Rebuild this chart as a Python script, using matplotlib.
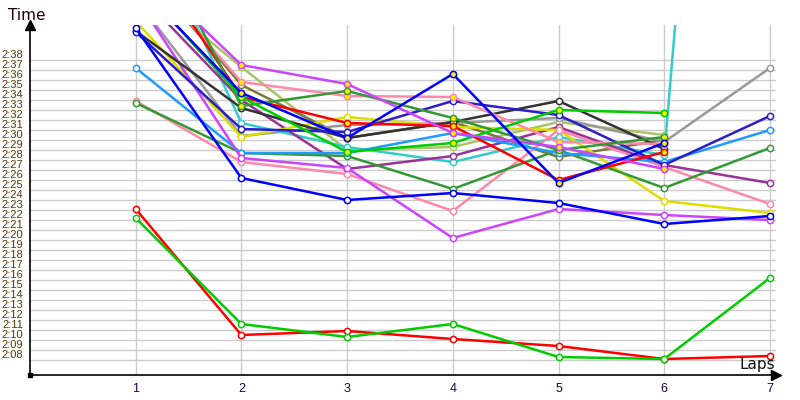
import numpy as np
import matplotlib
matplotlib.use('Agg')
import matplotlib.pyplot as plt
from matplotlib.ticker import FuncFormatter

nan = np.nan

# laps on the x axis
laps = [1, 2, 3, 4, 5, 6, 7]

# lap times in seconds (2:23.1 -> 143.1), nan = no lap
red_low = [143.1, 130.5, 130.9, 130.1, 129.4, 128.1, 128.4]
green_low = [142.2, 131.6, 130.3, 131.6, 128.3, 128.1, 136.2]
black = [160.9, 153.2, 150.2, 151.8, 153.9, 149.1, nan]
navy = [160.8, 151.1, 150.8, 153.9, 152.5, 147.5, 152.4]
blue = [161.2, 146.2, 144.0, 144.7, 143.7, 141.6, 142.4]
blue_y = [165.7, 154.7, 150.2, 156.6, 145.7, 149.7, nan]
dodger = [157.2, 148.7, 148.7, 150.7, 148.7, 147.8, 151.0]
pink = [153.9, 147.8, 146.6, 142.9, 151.0, 147.3, 143.6]
forest = [153.7, 148.7, 148.4, 145.1, 149.0, 145.2, 149.2]
magenta_up = [167.6, 157.5, 155.6, 150.7, 149.3, 147.1, nan]
magenta_low = [164.3, 148.2, 147.2, 140.2, 143.1, 142.5, 142.0]
purple = [165.0, 154.0, 147.1, 148.4, 151.3, 147.5, 145.7]
yellow = [161.9, 150.3, 152.3, 151.3, 151.0, 143.9, 142.7]
gray = [164.1, 150.4, 151.5, 151.7, 152.2, 149.8, 157.2]
teal = [174.6, 151.7, 149.3, 147.8, 150.3, 148.5, 273.8]
green_y = [165.9, 154.3, 148.8, 149.7, 153.0, 152.7, nan]
dkgreen_y = [173.8, 153.4, 154.9, 152.2, 149.0, 150.3, nan]
red_y = [170.0, 154.3, 151.7, 151.4, 146.0, 148.8, nan]
pink_y = [168.0, 155.8, 154.4, 154.3, 149.8, 149.6, nan]
olive_lt = [166.0, 157.3, 149.0, 149.3, 151.8, 150.5, nan]
olive_dk = [168.0, 155.5, 150.2, 151.8, 148.3, 150.0, nan]

# (data, line colour, marker fill)
series = [
    (olive_lt, '#aac466', 'white'),
    (olive_dk, '#7a7a3a', 'white'),
    (gray, '#999999', 'white'),
    (teal, '#33cccc', 'white'),
    (purple, '#993399', 'white'),
    (yellow, '#dddd00', 'white'),
    (pink, '#ff88aa', 'white'),
    (forest, '#339933', 'white'),
    (dodger, '#1e9bff', 'white'),
    (magenta_low, '#cc44ff', 'white'),
    (black, '#333333', 'white'),
    (navy, '#2a1fcc', 'white'),
    (blue, '#0000ff', 'white'),
    (pink_y, '#ff88aa', '#ffee00'),
    (red_y, '#ff0000', '#ffee00'),
    (dkgreen_y, '#339933', '#ffee00'),
    (green_y, '#00cc00', '#ffee00'),
    (magenta_up, '#cc44ff', '#ffee00'),
    (blue_y, '#0000ff', '#ffee00'),
    (red_low, '#ff0000', 'white'),
    (green_low, '#00cc00', 'white'),
]

fig = plt.figure(figsize=(8, 4), dpi=100)
ax = fig.add_axes([30 / 800, 25 / 400, 746 / 800, 350 / 400])

for vals, col, face in series:
    ax.plot(laps, vals, color=col, lw=1.8, marker='o', ms=4.5,
            mfc=face, mec=col, mew=1.1, zorder=3)

ax.set_xlim(0, 746 / 105.7)
ax.set_ylim(126.5, 161.5)

ax.set_xticks(laps)
ax.set_yticks(np.arange(128, 159, 1))
ax.yaxis.set_major_formatter(FuncFormatter(lambda v, p: '%d:%02d' % (v // 60, v % 60)))
ax.grid(True, color='#cccccc', lw=1, zorder=0)
ax.tick_params(axis='both', length=0)
ax.tick_params(axis='y', pad=5, colors='#5a3800')
ax.tick_params(axis='x', pad=6, colors='#200050')
for lab in ax.get_yticklabels():
    lab.set_verticalalignment('bottom')
    lab.set_family('Liberation Sans')
    lab.set_size(8)
for lab in ax.get_xticklabels():
    lab.set_family('Liberation Sans')
    lab.set_size(9)

ax.spines['top'].set_visible(False)
ax.spines['right'].set_visible(False)
ax.spines['left'].set_linewidth(1.2)
ax.spines['bottom'].set_linewidth(1.2)

# axis arrows
ax.plot(0, 1, marker='^', color='black', ms=7, transform=ax.transAxes, clip_on=False, zorder=5)
ax.plot(1, 0, marker='>', color='black', ms=7, transform=ax.transAxes, clip_on=False, zorder=5)
ax.plot(0, 0, marker='s', color='black', ms=3, transform=ax.transAxes, clip_on=False, zorder=5)

fig.text(8 / 800, 1 - 15 / 400, 'Time', fontsize=11, color='#220000', va='center', ha='left')
fig.text(775 / 800, 1 - 365 / 400, 'Laps', fontsize=11, color='#111111', va='center', ha='right')

fig.savefig('out.png', dpi=100)
